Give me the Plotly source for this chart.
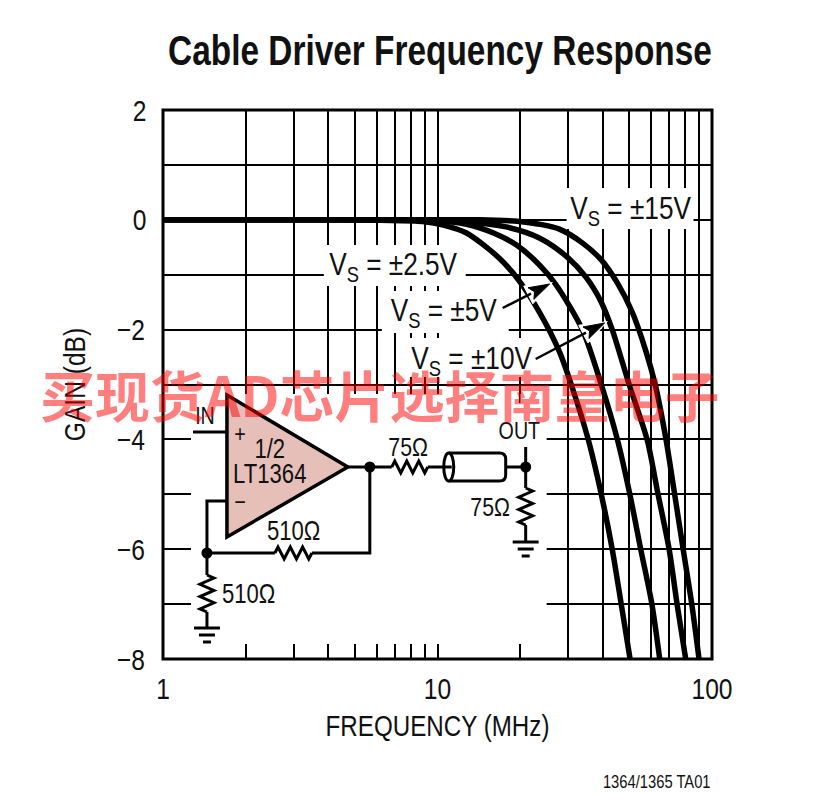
import math
import plotly.graph_objects as go

W, H = 827, 795
L, R, T, B = 163, 712.5, 110, 659

# ---- data ----
x_major = [1, 10, 100]
x_minor = [2, 3, 4, 5, 6, 7, 8, 9, 20, 30, 40, 50, 60, 70, 80, 90]
y_major = [2, 0, -2, -4, -6, -8]
y_minor = [1, -1, -3, -5, -7]

f_25 = [1, 2, 4, 6.15, 8.82, 10.6, 12.75, 16.8, 19.9, 23.5, 27.8, 30.7, 35.4, 39.5, 43.3, 46.7, 50.3]
g_25 = [0, 0, 0, -0.01, -0.03, -0.1, -0.24, -0.7, -1.12, -1.68, -2.4, -3, -4, -5, -6, -7, -8]
f_5 = [1, 2, 4, 7, 9.5, 12.75, 16, 19.4, 23.5, 26.9, 33.7, 39.5, 45.2, 50.2, 55.0, 60.4, 64.5]
g_5 = [0, 0, 0, 0, -0.01, -0.08, -0.24, -0.46, -0.82, -1.17, -2, -3, -4, -5, -6, -7, -8]
f_10 = [1, 2, 4, 8, 12.0, 17.8, 23.5, 29.7, 34.8, 39.5, 43.3, 49.9, 58.0, 63.6, 69.8, 74.6, 80.2]
g_10 = [0, 0, 0, 0, -0.02, -0.13, -0.33, -0.68, -1.05, -1.5, -2, -3, -4, -5, -6, -7, -8]
f_15 = [1, 2, 4, 8, 14.2, 19.9, 23.5, 27.8, 33.7, 39.5, 45.2, 51.2, 57.5, 62.1, 68.0, 73.1, 78.5, 84.4, 89.7]
g_15 = [0, 0, 0, 0, 0, -0.03, -0.08, -0.17, -0.42, -0.73, -1.15, -1.68, -2.4, -3, -4, -5, -6, -7, -8]
series = [("VS = ±2.5V", f_25, g_25), ("VS = ±5V", f_5, g_5),
          ("VS = ±10V", f_10, g_10), ("VS = ±15V", f_15, g_15)]

FONT = "Liberation Sans"
BLACK = "#000000"
INK = "#111111"
PINK = "#e6bfb8"

fig = go.Figure()
for name, fx, gy in series:
    fig.add_trace(go.Scatter(x=fx, y=gy, mode="lines", name=name, showlegend=False,
                             line=dict(color=BLACK, width=5.5, shape="spline", smoothing=0.8),
                             hoverinfo="skip"))


# ---- helpers for the schematic, which lives in page pixels ----
def px(x):
    return (x - L) / (R - L)


def py(y):
    return (B - y) / (B - T)


shapes = []


def rect(x0, y0, x1, y1):
    shapes.append(dict(type="rect", xref="paper", yref="paper", layer="above",
                       x0=px(x0), x1=px(x1), y0=py(y0), y1=py(y1),
                       fillcolor="white", line=dict(width=0)))


def poly(points, width=3, fill=None, close=False, color=BLACK):
    d = "M" + " L".join(f"{px(a):.5f},{py(b):.5f}" for a, b in points)
    if close:
        d += " Z"
    shapes.append(dict(type="path", xref="paper", yref="paper", layer="above", path=d,
                       fillcolor=fill if fill else "rgba(0,0,0,0)",
                       line=dict(color=color, width=width)))


def dot(x, y, r=5.5):
    shapes.append(dict(type="circle", xref="paper", yref="paper", layer="above",
                       x0=px(x - r), x1=px(x + r), y0=py(y + r), y1=py(y - r),
                       fillcolor=BLACK, line=dict(width=0)))


def res_h(x0, x1, y, a=6):
    n = 6
    pts = [(x0, y)]
    for i in range(n):
        pts.append((x0 + (x1 - x0) * (i + 0.5) / n, y + (a if i % 2 else -a)))
    pts.append((x1, y))
    poly(pts)


def res_v(x, y0, y1, a=7):
    n = 6
    pts = [(x, y0)]
    for i in range(n):
        pts.append((x + (a if i % 2 == 0 else -a), y0 + (y1 - y0) * (i + 0.5) / n))
    pts.append((x, y1))
    poly(pts)


def ground(x, y):
    poly([(x - 13, y), (x + 13, y)])
    poly([(x - 8, y + 7), (x + 8, y + 7)])
    poly([(x - 4, y + 14), (x + 4, y + 14)])


def arrow(x0, y0, x1, y1):
    ang = math.atan2(y1 - y0, x1 - x0)
    ux, uy = math.cos(ang), math.sin(ang)
    bx, by = x1 - 21 * ux, y1 - 21 * uy
    hx, hy = -uy, ux
    poly([(x1 + 3 * ux, y1 + 3 * uy),
          (bx - 3 * ux + hx * 10, by - 3 * uy + hy * 10),
          (bx - 3 * ux - hx * 10, by - 3 * uy - hy * 10)],
         width=1, fill="white", close=True, color="white")
    poly([(x0, y0), (bx, by)], width=2.5)
    poly([(x1, y1), (bx + hx * 6.5, by + hy * 6.5), (bx + 4 * ux, by + 4 * uy),
          (bx - hx * 6.5, by - hy * 6.5)], width=1, fill=BLACK, close=True)


# masks that cut the grid behind the texts and the schematic
rect(191, 394, 547, 644)
rect(324, 245, 466, 286)
rect(382, 291, 509, 333)
rect(407, 338, 533, 377)
rect(567, 188, 694, 229)
# stub of the 20 MHz line under the -3 dB line
poly([(520, 392), (520, 403)], width=1.5)
# plot frame
shapes.append(dict(type="rect", xref="paper", yref="paper", layer="above",
                   x0=0, x1=1, y0=0, y1=1, line=dict(color=BLACK, width=3),
                   fillcolor="rgba(0,0,0,0)"))

# amplifier
poly([(227, 395), (348, 467), (227, 537)], width=3.5, fill=PINK, close=True)
poly([(193, 432), (227, 432)])
poly([(348, 467), (392, 467)])
res_h(392, 428, 467)
poly([(428, 467), (444, 467)])
dot(370, 467)
poly([(370, 467), (370, 553), (312, 553)])
res_h(275, 312, 553)
poly([(275, 553), (207, 553)])
poly([(227, 501), (207, 501), (207, 575)])
dot(207, 553)
res_v(207, 575, 612)
poly([(207, 612), (207, 628)])
ground(207, 628)
# coax
shapes.append(dict(type="path", xref="paper", yref="paper", layer="above",
                   path=(f"M{px(449):.5f},{py(453):.5f} L{px(500):.5f},{py(453):.5f} "
                         f"Q{px(506):.5f},{py(453):.5f} {px(506):.5f},{py(459):.5f} "
                         f"L{px(506):.5f},{py(475):.5f} "
                         f"Q{px(506):.5f},{py(481):.5f} {px(500):.5f},{py(481):.5f} "
                         f"L{px(449):.5f},{py(481):.5f}"),
                   fillcolor="rgba(0,0,0,0)", line=dict(color=BLACK, width=3)))
shapes.append(dict(type="circle", xref="paper", yref="paper", layer="above",
                   x0=px(444), x1=px(454), y0=py(481), y1=py(453),
                   fillcolor="white", line=dict(color=BLACK, width=3)))
poly([(444, 467), (452, 467)])
poly([(506, 467), (526, 467)])
poly([(526, 447), (526, 488)])
dot(526, 467)
res_v(526, 488, 525)
poly([(526, 525), (526, 542)])
ground(526, 542)

arrow(503, 308, 550, 284)
arrow(536, 359, 605, 323)

ann = []


def text(x, y, s, size=24, anchor="center", color=INK, family=FONT, angle=0):
    ann.append(dict(xref="paper", yref="paper", x=px(x), y=py(y), text=s, showarrow=False,
                    xanchor=anchor, yanchor="middle", textangle=angle,
                    font=dict(family=family, size=size, color=color)))


text(440, 50, "<b>Cable Driver Frequency Response</b>", size=42)
text(631, 210, "V<sub>S</sub> = ±15V", size=32)
text(394, 266, "V<sub>S</sub> = ±2.5V", size=32)
text(444, 312, "V<sub>S</sub> = ±5V", size=32)
text(472, 360, "V<sub>S</sub> = ±10V", size=32)
text(205, 415, "IN", size=24)
text(240, 433, "+", size=24)
text(240, 501, "−", size=24)
text(270, 449, "1/2", size=27)
text(270, 474, "LT1364", size=27)
text(408, 447, "75Ω", size=26)
text(520, 430, "OUT", size=24)
text(490, 507, "75Ω", size=26)
text(294, 531, "510Ω", size=27)
text(249, 594, "510Ω", size=27)
text(657, 782, "1364/1365 TA01", size=18)
text(380, 393, "<b>买现货AD芯片选择南皇电子</b>", size=55, color="rgba(255,0,0,0.5)",
     family="Noto Sans CJK SC")

axis_common = dict(showgrid=True, gridcolor=BLACK, gridwidth=1.5, zeroline=False,
                   showline=False, ticks="", tickfont=dict(size=30, color=INK))
fig.update_layout(
    width=W, height=H, margin=dict(l=L, r=W - R, t=T, b=H - B, pad=0),
    paper_bgcolor="white", plot_bgcolor="white", showlegend=False,
    shapes=shapes, annotations=ann, font=dict(family=FONT, color=INK),
    xaxis=dict(type="log", range=[0, 2], tickmode="array", tickvals=x_major,
               ticktext=[str(v) for v in x_major],
               minor=dict(tickmode="array", tickvals=x_minor, showgrid=True, ticks="",
                          gridcolor=BLACK, gridwidth=1.5),
               ticklabelstandoff=9,
               title=dict(text="FREQUENCY (MHz)", font=dict(size=29.5, color=INK), standoff=11),
               **axis_common),
    yaxis=dict(range=[-8, 2], tickmode="array", tickvals=y_major,
               ticktext=[str(v).replace("-", "−") for v in y_major],
               minor=dict(tickmode="array", tickvals=y_minor, showgrid=True, ticks="",
                          gridcolor=BLACK, gridwidth=1.5),
               ticklabelstandoff=14,
               title=dict(text="GAIN (dB)", font=dict(size=30, color=INK), standoff=19),
               **axis_common),
)

# The reference uses a condensed face; none is installed, so squeeze the glyphs sideways.
condense = """
document.body.style.margin='0';
document.querySelectorAll('svg.main-svg text').forEach(function(t){
  if(/[\\u4e00-\\u9fff]/.test(t.textContent)) return;
  var b=t.getBBox(); if(!b.width) return;
  var k=t.textContent.indexOf('Cable')===0 ? 544/b.width : 0.82;
  var c=b.x+b.width/2, old=t.getAttribute('transform')||'';
  t.setAttribute('transform', old+' translate('+c+',0) scale('+k+',1) translate('+(-c)+',0)');
});
"""
fig.write_html("out.html", config=dict(displayModeBar=False), post_script=condense)
